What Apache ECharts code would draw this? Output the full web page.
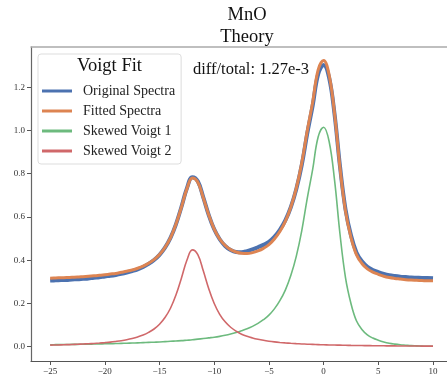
<!DOCTYPE html>
<html><head><meta charset="utf-8">
<script src="https://cdn.jsdelivr.net/npm/echarts@6/dist/echarts.min.js"></script>
<style>html,body{margin:0;padding:0;background:#fff}#c{width:447px;height:381px}</style>
</head><body><div id="c"></div>
<script>
const xValues = [-25,-24.5,-24,-23.5,-23,-22.5,-22,-21.5,-21,-20.5,-20,-19.5,-19,-18.5,-18,-17.5,-17,-16.5,-16,-15.5,-15,-14.5,-14,-13.5,-13,-12.5,-12,-11.5,-11,-10.5,-10,-9.5,-9,-8.5,-8,-7.5,-7,-6.5,-6,-5.5,-5,-4.5,-4,-3.5,-3,-2.5,-2,-1.5,-1,-0.5,0,0.5,1,1.5,2,2.5,3,3.5,4,4.5,5,5.5,6,6.5,7,7.5,8,8.5,9,9.5,10];
const original = [0.306,0.307,0.308,0.309,0.311,0.312,0.314,0.316,0.319,0.321,0.325,0.328,0.332,0.337,0.343,0.350,0.358,0.369,0.383,0.401,0.425,0.458,0.503,0.566,0.646,0.732,0.784,0.765,0.691,0.609,0.543,0.497,0.466,0.447,0.438,0.437,0.442,0.450,0.460,0.471,0.485,0.508,0.541,0.584,0.645,0.728,0.840,0.985,1.115,1.260,1.303,1.245,1.075,0.833,0.636,0.515,0.436,0.395,0.370,0.355,0.345,0.337,0.331,0.327,0.324,0.322,0.320,0.319,0.318,0.318,0.317];
const fitted = [0.317,0.318,0.319,0.320,0.321,0.322,0.324,0.326,0.328,0.330,0.333,0.336,0.339,0.344,0.349,0.355,0.363,0.373,0.386,0.403,0.426,0.459,0.503,0.566,0.645,0.730,0.780,0.761,0.689,0.609,0.544,0.498,0.468,0.449,0.438,0.432,0.431,0.435,0.443,0.455,0.472,0.498,0.533,0.580,0.645,0.732,0.849,0.997,1.131,1.280,1.324,1.258,1.078,0.827,0.627,0.506,0.426,0.385,0.360,0.345,0.335,0.326,0.320,0.316,0.313,0.310,0.308,0.307,0.306,0.305,0.305];
const voigt1 = [0.009,0.0095,0.010,0.0103,0.0107,0.011,0.0115,0.012,0.0125,0.013,0.0136,0.0142,0.0149,0.0156,0.0163,0.017,0.018,0.019,0.020,0.021,0.022,0.0235,0.025,0.0265,0.028,0.030,0.032,0.035,0.038,0.041,0.044,0.048,0.053,0.059,0.066,0.074,0.083,0.094,0.108,0.125,0.146,0.175,0.213,0.262,0.329,0.418,0.536,0.685,0.82,0.97,1.015,0.95,0.77,0.52,0.32,0.2,0.12,0.08,0.055,0.04,0.03,0.022,0.016,0.012,0.009,0.007,0.005,0.004,0.003,0.002,0.002];
const voigt2 = [0.0075,0.008,0.0087,0.0095,0.0103,0.0113,0.0124,0.0137,0.0152,0.0169,0.019,0.0214,0.0245,0.028,0.0324,0.038,0.045,0.0539,0.0662,0.082,0.104,0.135,0.178,0.239,0.317,0.400,0.448,0.426,0.351,0.268,0.200,0.150,0.115,0.090,0.072,0.058,0.048,0.0405,0.0345,0.0296,0.0257,0.0225,0.0199,0.0177,0.0158,0.0142,0.0129,0.0117,0.0107,0.0098,0.009,0.0083,0.0077,0.0072,0.0067,0.0062,0.0058,0.0054,0.0051,0.0048,0.0045,0.0043,0.004,0.0038,0.0036,0.0034,0.0033,0.0031,0.003,0.0028,0.0027];
const xTicks = [-25,-20,-15,-10,-5,0,5,10];
const yTicks = [0,0.2,0.4,0.6,0.8,1.0,1.2];
const seriesNames = ['Original Spectra','Fitted Spectra','Skewed Voigt 1','Skewed Voigt 2'];

const pair = arr => xValues.map((x,i)=>[x,arr[i]]);
const serif = 'Liberation Serif';
const chart = echarts.init(document.getElementById('c'), null, {renderer:'canvas'});
const axisLabelX = {customValues:xTicks, fontFamily:serif, fontSize:9, color:'#333', margin:6,
  formatter:v=>String(v).replace('-','\u2212')};
const axisLabelY = {customValues:yTicks, fontFamily:serif, fontSize:9, color:'#333', margin:6,
  formatter:v=>v.toFixed(1)};
chart.setOption({
  animation:false,
  title:{text:'MnO\nTheory', left:242, textAlign:'center', top:-1,
    textStyle:{fontFamily:serif, fontSize:18.5, fontWeight:'normal', color:'#111', lineHeight:22}},
  grid:{left:31, top:47, right:0, bottom:20, containLabel:false},
  xAxis:[{type:'value', min:-26.75, max:11.28, splitLine:{show:false},
    axisLine:{show:true, onZero:false, lineStyle:{color:'#555', width:1.2}},
    axisTick:{show:true, customValues:xTicks, length:4, lineStyle:{color:'#555'}},
    axisLabel:axisLabelX},
   {type:'value', position:'top', min:-26.75, max:11.28, splitLine:{show:false},
    axisLine:{show:true, onZero:false, lineStyle:{color:'#aaa', width:1.5}}, axisTick:{show:false}, axisLabel:{show:false}}],
  yAxis:{type:'value', min:-0.066, max:1.386, splitLine:{show:false},
    axisLine:{show:true, onZero:false, lineStyle:{color:'#666', width:1.2}},
    axisTick:{show:true, customValues:yTicks, length:4, lineStyle:{color:'#555'}},
    axisLabel:axisLabelY},
  legend:{orient:'vertical', left:38, top:54,
    padding:[30,6,6,4], itemGap:6, itemWidth:30, itemHeight:3,
    backgroundColor:'#fff', borderColor:'#ddd', borderWidth:1, borderRadius:3,
    icon:'rect', data:seriesNames,
    textStyle:{fontFamily:serif, fontSize:14, color:'#222', lineHeight:14, padding:[0,0,0,6]}},
  graphic:[
    {type:'text', left:77, top:57, style:{text:'Voigt Fit', font:'18.5px "Liberation Serif"', fill:'#111'}, z:100},
    {type:'text', left:193, top:61, style:{text:'diff/total: 1.27e-3', font:'16.5px "Liberation Serif"', fill:'#111'}, z:100}
  ],
  series:[
    {name:seriesNames[0], type:'line', data:pair(original), smooth:0.4, showSymbol:false,
      lineStyle:{color:'#4c72b0', width:4}, itemStyle:{color:'#4c72b0'}, z:2},
    {name:seriesNames[1], type:'line', data:pair(fitted), smooth:0.4, showSymbol:false,
      lineStyle:{color:'#dd8452', width:3}, itemStyle:{color:'#dd8452'}, z:3},
    {name:seriesNames[2], type:'line', data:pair(voigt1), smooth:0.4, showSymbol:false,
      lineStyle:{color:'#6dba7e', width:1.6}, itemStyle:{color:'#6dba7e'}, z:4},
    {name:seriesNames[3], type:'line', data:pair(voigt2), smooth:0.4, showSymbol:false,
      lineStyle:{color:'#d0686a', width:1.6}, itemStyle:{color:'#d0686a'}, z:5}
  ]
});
</script></body></html>
